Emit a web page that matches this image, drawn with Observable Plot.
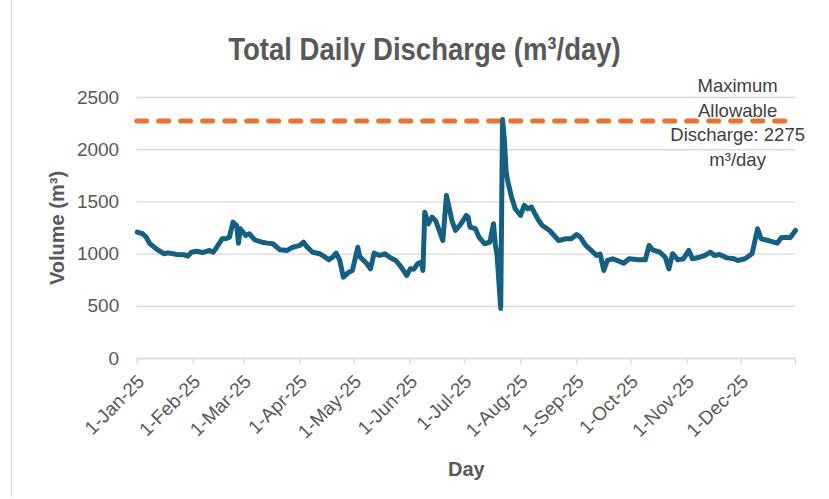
<!DOCTYPE html>
<html>
<head>
<meta charset="utf-8">
<script src="https://cdn.jsdelivr.net/npm/d3@7"></script>
<script src="https://cdn.jsdelivr.net/npm/@observablehq/plot@0.6"></script>
<style>
  html, body { margin: 0; padding: 0; background: #fff; }
  #wrap { position: relative; width: 829px; height: 499px; overflow: hidden; background: #fff; }
  #frame { position: absolute; left: 11px; top: 0; width: 0; height: 497px; border-left: 1.5px solid #d9d9d9; }
  #title { position: absolute; left: 12px; width: 825px; top: 33px; text-align: center;
           font: bold 32px "Liberation Sans Narrow", "Liberation Sans", sans-serif; line-height: 32px; color: #595959;
           transform: scaleX(0.86); transform-origin: 412.5px 50%; }
  #chart { position: absolute; left: 0; top: 0; }
</style>
</head>
<body>
<div id="wrap">
  <div id="frame"></div>
  <div id="chart"></div>
  <div id="title">Total Daily Discharge (m³/day)</div>
</div>
<script>
const dates = ["2025-01-01","2025-01-04","2025-01-06","2025-01-08","2025-01-12","2025-01-16","2025-01-18","2025-01-23","2025-01-27","2025-01-29","2025-01-31",
"2025-02-03","2025-02-06","2025-02-10","2025-02-12","2025-02-14","2025-02-17","2025-02-19","2025-02-21","2025-02-23","2025-02-25","2025-02-26","2025-02-27",
"2025-03-02","2025-03-04","2025-03-07","2025-03-11","2025-03-14","2025-03-17","2025-03-21","2025-03-25","2025-03-28",
"2025-04-01","2025-04-03","2025-04-05","2025-04-08","2025-04-12","2025-04-15","2025-04-17","2025-04-19","2025-04-21","2025-04-23","2025-04-25","2025-04-28","2025-04-30",
"2025-05-03","2025-05-04","2025-05-08","2025-05-10","2025-05-12","2025-05-15","2025-05-18","2025-05-21","2025-05-24","2025-05-27","2025-05-30",
"2025-06-01","2025-06-03","2025-06-05","2025-06-07","2025-06-08","2025-06-09","2025-06-11","2025-06-13","2025-06-15","2025-06-17","2025-06-19","2025-06-21","2025-06-22","2025-06-24","2025-06-26","2025-06-29",
"2025-07-02","2025-07-03","2025-07-04","2025-07-07","2025-07-09","2025-07-12","2025-07-15","2025-07-17","2025-07-18","2025-07-19","2025-07-21","2025-07-22","2025-07-23","2025-07-24","2025-07-25","2025-07-27","2025-07-29",
"2025-08-01","2025-08-03","2025-08-05","2025-08-07","2025-08-11","2025-08-13","2025-08-17","2025-08-22","2025-08-26","2025-08-29",
"2025-09-01","2025-09-03","2025-09-06","2025-09-09","2025-09-12","2025-09-14","2025-09-16","2025-09-18","2025-09-21","2025-09-27","2025-09-30",
"2025-10-05","2025-10-09","2025-10-11","2025-10-13","2025-10-17","2025-10-20","2025-10-22","2025-10-24","2025-10-27","2025-10-30",
"2025-11-02","2025-11-04","2025-11-08","2025-11-11","2025-11-14","2025-11-16","2025-11-19","2025-11-23","2025-11-27","2025-11-29",
"2025-12-03","2025-12-07","2025-12-09","2025-12-10","2025-12-12","2025-12-16","2025-12-21","2025-12-23","2025-12-26","2025-12-28","2025-12-31"];

const volumes = [1210,1195,1162,1100,1044,1003,1012,996,993,980,1018,
1028,1015,1035,1018,1066,1147,1147,1162,1306,1274,1105,1243,
1178,1195,1137,1114,1105,1099,1041,1035,1066,
1083,1114,1066,1018,1003,970,945,970,1009,939,779,827,843,
1066,977,907,859,1009,987,1003,964,939,875,795,
859,855,907,922,843,1402,1290,1354,1322,1226,1130,1562,1482,1322,1226,1290,
1370,1354,1258,1243,1162,1099,1114,1290,1099,987,480,2290,2100,1790,1690,1545,1434,
1370,1466,1434,1450,1322,1274,1226,1130,1147,1147,
1188,1162,1083,1035,987,1000,843,939,955,913,955,
945,945,1083,1041,1018,970,859,1003,945,955,
1035,955,970,987,1018,987,996,964,955,939,
955,1003,1162,1243,1147,1130,1105,1156,1162,1156,1226];

const yTicks = [0, 500, 1000, 1500, 2000, 2500];
const xTickDates = ["2025-01-01","2025-02-01","2025-03-01","2025-04-01","2025-05-01","2025-06-01","2025-07-01","2025-08-01","2025-09-01","2025-10-01","2025-11-01","2025-12-01","2025-12-31"];
const xTickLabels = ["1-Jan-25","1-Feb-25","1-Mar-25","1-Apr-25","1-May-25","1-Jun-25","1-Jul-25","1-Aug-25","1-Sep-25","1-Oct-25","1-Nov-25","1-Dec-25",""];
const limitValue = 2275;
const limitStart = "2025-01-01";
const limitEnd = "2025-12-27";
const limitLabel = "Maximum\nAllowable\nDischarge: 2275\nm³/day";
const limitLabelDate = "2025-11-29";

const parse = d3.utcParse("%Y-%m-%d");
const data = dates.map((d, i) => ({date: parse(d), volume: volumes[i]}));
const tickDates = xTickDates.map(parse);
const labelOf = new Map(tickDates.map((d, i) => [+d, xTickLabels[i]]));

const font = '"Liberation Sans Narrow", "Liberation Sans", sans-serif';
const textColor = "#595959";

const chart = Plot.plot({
  width: 829,
  height: 499,
  marginLeft: 136.7,
  marginRight: 34,
  marginTop: 97,
  marginBottom: 141,
  style: {fontFamily: font, color: textColor, background: "transparent", overflow: "visible"},
  x: {type: "utc", domain: [parse("2025-01-01"), parse("2025-12-31")]},
  y: {domain: [0, 2500]},
  marks: [
    Plot.gridY(yTicks, {stroke: "#d9d9d9", strokeOpacity: 1, strokeWidth: 1.4}),
    Plot.axisY({ticks: yTicks, tickFormat: d => String(d), tickSize: 0, tickPadding: 18, fontSize: 19, fill: textColor, label: null}),
    Plot.axisY({ticks: [], label: "Volume (m³)", labelAnchor: "center", labelArrow: "none", labelOffset: 87, fontSize: 20, fontWeight: "bold", fill: textColor}),
    Plot.axisX({ticks: tickDates, tickFormat: () => "", tickSize: 6, stroke: "#d9d9d9", strokeOpacity: 1, strokeWidth: 1.4, label: null}),
    Plot.axisX({ticks: tickDates, tickFormat: d => labelOf.get(+d), tickRotate: -45, tickSize: 0, tickPadding: 20, dx: 4, fontSize: 19, fill: textColor, label: null}),
    Plot.axisX({ticks: [], label: "Day", labelAnchor: "center", labelArrow: "none", labelOffset: 117, fontSize: 20, fontWeight: "bold", fill: textColor}),
    Plot.ruleY([0], {stroke: "#d9d9d9", strokeWidth: 1.4}),
    Plot.ruleY([limitValue], {x1: parse(limitStart), x2: parse(limitEnd), stroke: "#E97132", strokeWidth: 5, strokeDasharray: "10 12", strokeLinecap: "round"}),
    Plot.lineY(data, {x: "date", y: "volume", stroke: "#156082", strokeWidth: 5, strokeLinejoin: "round", strokeLinecap: "round"}),
    Plot.text([limitLabel], {x: parse(limitLabelDate), y: limitValue, text: d => d, lineAnchor: "middle", lineHeight: 1.33, fontSize: 18.5, fill: "#404040", textAnchor: "middle"})
  ]
});
document.getElementById("chart").appendChild(chart);
</script>
</body>
</html>
